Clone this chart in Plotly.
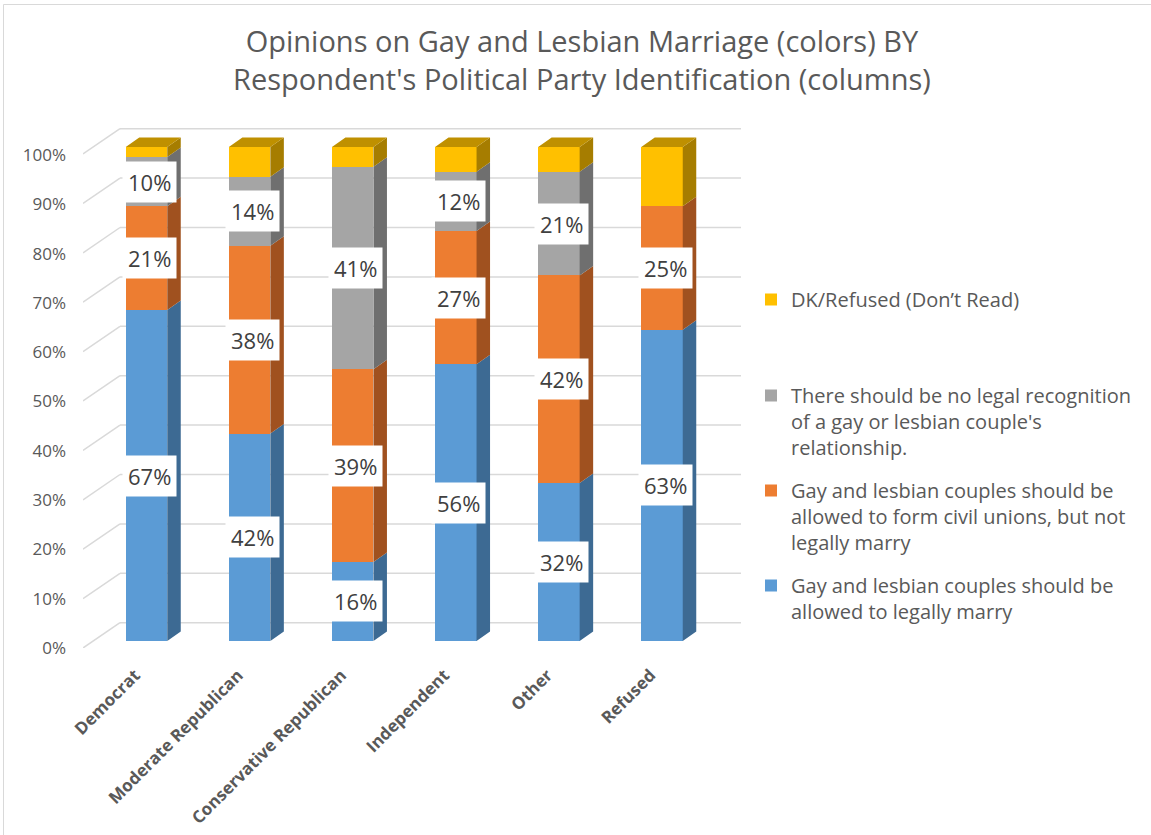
import plotly.graph_objects as go

# ---- data -------------------------------------------------------------
parties = ["Democrat", "Moderate Republican", "Conservative Republican",
           "Independent", "Other", "Refused"]

legally_marry = [67, 42, 16, 56, 32, 63]
civil_unions = [21, 38, 39, 27, 42, 25]
no_recognition = [10, 14, 41, 12, 21, 0]
dk_refused = [2, 6, 4, 5, 5, 12]

series_names = [
    "Gay and lesbian couples should be<br>allowed to legally marry",
    "Gay and lesbian couples should be<br>allowed to form civil unions, but not<br>legally marry",
    "There should be no legal recognition<br>of a gay or lesbian couple's<br>relationship.",
    "DK/Refused (Don\u2019t Read)",
]
labelled = [True, True, True, False]

y_ticks = [0, 10, 20, 30, 40, 50, 60, 70, 80, 90, 100]
y_tick_text = [f"{v}%" for v in y_ticks]

# ---- styling ----------------------------------------------------------
FONT = "Open Sans"
TEXT = "#595959"
front_colors = ["#5B9BD5", "#ED7D31", "#A5A5A5", "#FFC000"]
side_colors = ["#3D6A93", "#A0511F", "#6F6F6F", "#A67D00"]
top_color = "#BF9000"
GRID = "#D9D9D9"

W, H = 1151, 835
PLOT_L, PLOT_R, PLOT_T, PLOT_B = 83, 741, 127, 648
CAT_PX = 103.1          # pixels per category step
PCT_PX = 4.94           # pixels per percentage point
FIRST_CENTER = 146.5    # pixel x of the first column's front face
FRONT_ZERO = 641        # pixel y of 0% on the column front faces

BAR_W = 0.4025          # column width (category units)
DEPTH_X = 13.5 / CAT_PX  # oblique depth of a column
DEPTH_Y = 9.5 / PCT_PX

# floor / walls relative to the column front plane
LABEL_DY = (FRONT_ZERO - PLOT_B) / PCT_PX      # front edge of the floor
BACK_DY = (FRONT_ZERO - 622.7) / PCT_PX        # back wall
WALL_X0 = (PLOT_L - FIRST_CENTER) / CAT_PX     # left front corner
WALL_XB = (120 - FIRST_CENTER) / CAT_PX        # left back corner
X_MAX = (PLOT_R - FIRST_CENTER) / CAT_PX
Y_MIN = (FRONT_ZERO - PLOT_B) / PCT_PX
Y_MAX = (FRONT_ZERO - PLOT_T) / PCT_PX

series = [legally_marry, civil_unions, no_recognition, dk_refused]
legend_ids = ["legend4", "legend3", "legend2", "legend"]
xs = list(range(len(parties)))

fig = go.Figure()

# front faces
for vals, name, col, lg in zip(series, series_names, front_colors, legend_ids):
    fig.add_trace(go.Bar(
        x=xs, y=vals, name=name, width=BAR_W,
        marker=dict(color=col, line=dict(width=0)),
        legend=lg, hoverinfo="skip",
    ))

# side faces of every segment and the top face of each column
bases = [0] * len(parties)
for s, vals in enumerate(series):
    px_, py_ = [], []
    for i, v in enumerate(vals):
        b, t = bases[i], bases[i] + v
        if v > 0:
            xr = i + BAR_W / 2
            px_ += [xr, xr + DEPTH_X, xr + DEPTH_X, xr, xr, None]
            py_ += [b, b + DEPTH_Y, t + DEPTH_Y, t, b, None]
        bases[i] = t
    fig.add_trace(go.Scatter(
        x=px_, y=py_, mode="lines", fill="toself", fillcolor=side_colors[s],
        line=dict(width=0, color=side_colors[s]), showlegend=False,
        hoverinfo="skip",
    ))

tx, ty = [], []
for i, total in enumerate(bases):
    xl, xr = i - BAR_W / 2, i + BAR_W / 2
    tx += [xl, xl + DEPTH_X, xr + DEPTH_X, xr, xl, None]
    ty += [total, total + DEPTH_Y, total + DEPTH_Y, total, total, None]
fig.add_trace(go.Scatter(
    x=tx, y=ty, mode="lines", fill="toself", fillcolor=top_color,
    line=dict(width=0, color=top_color), showlegend=False, hoverinfo="skip",
))

# data labels
bases = [0] * len(parties)
for s, vals in enumerate(series):
    for i, v in enumerate(vals):
        if labelled[s] and v > 0:
            fig.add_annotation(
                x=i + 0.03, y=bases[i] + v / 2, text=f"{v}%",
                showarrow=False, bgcolor="white", borderpad=5,
                font=dict(family=FONT, size=22, color="#404040"),
            )
        bases[i] += v

# back wall and side wall gridlines
for v in y_ticks:
    fig.add_shape(type="line", layer="below", x0=WALL_XB, x1=X_MAX,
                  y0=v + BACK_DY, y1=v + BACK_DY,
                  line=dict(color=GRID, width=1.5))
    fig.add_shape(type="line", layer="below", x0=WALL_X0, x1=WALL_XB,
                  y0=v + LABEL_DY, y1=v + BACK_DY,
                  line=dict(color=GRID, width=1.5))

# chart border
def paper_x(p):
    return (p - PLOT_L) / (PLOT_R - PLOT_L)

def paper_y(p):
    return (PLOT_B - p) / (PLOT_B - PLOT_T)

fig.add_shape(type="rect", xref="paper", yref="paper",
              x0=paper_x(3.5), x1=paper_x(W + 2), y0=paper_y(H + 2), y1=paper_y(4.5),
              line=dict(color=GRID, width=1), layer="below")

legend_style = dict(
    xanchor="left", yanchor="top", bgcolor="rgba(0,0,0,0)",
    font=dict(family=FONT, size=20, color=TEXT), valign="top",
    itemclick=False, itemdoubleclick=False,
)

fig.update_layout(
    width=W, height=H,
    margin=dict(l=PLOT_L, r=W - PLOT_R, t=PLOT_T, b=H - PLOT_B),
    paper_bgcolor="white", plot_bgcolor="white",
    barmode="stack",
    title=dict(
        text="Opinions on Gay and Lesbian Marriage (colors) BY<br>"
             "Respondent's Political Party Identification (columns)",
        x=0.5056, xanchor="center", y=1 - 52 / H, yanchor="top",
        font=dict(family=FONT, size=29, color=TEXT),
    ),
    xaxis=dict(
        range=[WALL_X0, X_MAX], showgrid=False, zeroline=False,
        showline=False, automargin=False,
        tickmode="array", tickvals=[i - 0.11 for i in xs], ticktext=parties,
        tickangle=-45, ticks="", ticklabelstandoff=13,
        tickfont=dict(family=FONT, size=17, color=TEXT, weight="bold"),
    ),
    yaxis=dict(
        range=[Y_MIN, Y_MAX], showgrid=False, zeroline=False,
        showline=False, automargin=False,
        tickmode="array", tickvals=[v * 0.998 + LABEL_DY for v in y_ticks],
        ticktext=y_tick_text, ticks="", ticklabelstandoff=16,
        tickfont=dict(family=FONT, size=17, color=TEXT),
    ),
    legend=dict(x=paper_x(751), y=paper_y(280), **legend_style),
    legend2=dict(x=paper_x(751), y=paper_y(376), **legend_style),
    legend3=dict(x=paper_x(751), y=paper_y(471), **legend_style),
    legend4=dict(x=paper_x(751), y=paper_y(566), **legend_style),
    showlegend=True,
)

fig.write_html("out.html")
